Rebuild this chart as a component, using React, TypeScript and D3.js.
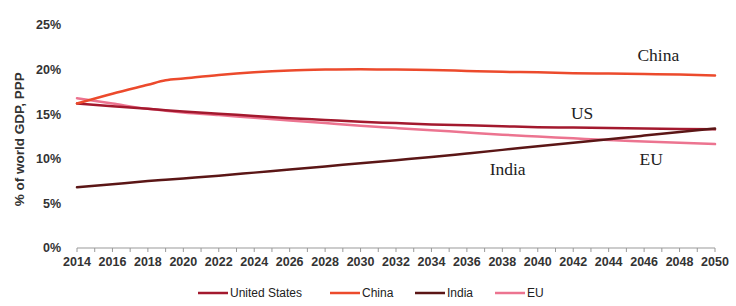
import React from "react";
import * as d3 from "d3";

const years = [2014, 2016, 2018, 2019, 2020, 2022, 2024, 2026, 2028, 2030, 2032, 2034, 2036, 2038, 2040, 2042, 2044, 2046, 2048, 2050];
const usValues = [16.2, 15.9, 15.6, 15.45, 15.3, 15.05, 14.8, 14.55, 14.35, 14.15, 14.0, 13.85, 13.75, 13.65, 13.55, 13.5, 13.45, 13.4, 13.35, 13.3];
const chinaValues = [16.2, 17.3, 18.3, 18.8, 19.0, 19.4, 19.7, 19.9, 20.0, 20.05, 20.0, 19.95, 19.85, 19.75, 19.7, 19.6, 19.55, 19.5, 19.45, 19.35];
const indiaValues = [6.8, 7.15, 7.5, 7.65, 7.8, 8.1, 8.45, 8.8, 9.15, 9.5, 9.85, 10.2, 10.6, 11.0, 11.4, 11.8, 12.2, 12.6, 13.0, 13.4];
const euValues = [16.8, 16.2, 15.6, 15.4, 15.2, 14.9, 14.6, 14.3, 14.0, 13.7, 13.45, 13.2, 12.95, 12.7, 12.5, 12.3, 12.1, 11.95, 11.8, 11.65];
const yTicks = [0, 5, 10, 15, 20, 25];
const xTickLabels = d3.range(2014, 2051, 2);
const seriesNames = ["United States", "China", "India", "EU"];
const seriesColors = ["#a3192e", "#ec4a2c", "#5b1616", "#ec7490"];
const annotations = [
  { text: "China", year: 2046.8, value: 21.6 },
  { text: "US", year: 2042.5, value: 15.2 },
  { text: "India", year: 2038.3, value: 8.9 },
  { text: "EU", year: 2046.4, value: 10.0 },
];

export default function App() {
  const width = 736;
  const height = 306;
  const x = d3.scaleLinear().domain([2014, 2050]).range([77, 715]);
  const y = d3.scaleLinear().domain([0, 25]).range([248, 25]);
  const allValues = [usValues, chinaValues, indiaValues, euValues];
  const line = d3
    .line<[number, number]>()
    .x((d) => x(d[0]))
    .y((d) => y(d[1]))
    .curve(d3.curveMonotoneX);
  const legendX = [198, 330, 415, 495];
  const drawOrder = [3, 0, 2, 1];

  return (
    <svg width={width} height={height} style={{ position: "absolute", left: 0, top: 0, background: "#fff" }}>
      {yTicks.map((t) => (
        <text key={t} x={61} y={y(t)} dy="0.35em" textAnchor="end" fontFamily="Liberation Sans, Arial, sans-serif" fontWeight="bold" fontSize={12.5} fill="#333">
          {t}%
        </text>
      ))}
      <text
        transform={`translate(24, ${y(12.2)}) rotate(-90)`}
        textAnchor="middle"
        fontFamily="Liberation Sans, Arial, sans-serif"
        fontWeight="bold"
        fontSize={13.5}
        fill="#333"
      >
        % of world GDP, PPP
      </text>
      <line x1={x(2014)} x2={x(2050)} y1={248} y2={248} stroke="#999" strokeWidth={1} />
      {d3.range(2014, 2051, 1).map((yr) => (
        <line key={yr} x1={x(yr)} x2={x(yr)} y1={248} y2={252} stroke="#999" strokeWidth={1} />
      ))}
      {xTickLabels.map((yr) => (
        <text key={yr} x={x(yr)} y={266} textAnchor="middle" fontFamily="Liberation Sans, Arial, sans-serif" fontWeight="bold" fontSize={12.5} fill="#333">
          {yr}
        </text>
      ))}
      {drawOrder.map((i) => (
        <path
          key={i}
          d={line(years.map((yr, j) => [yr, allValues[i][j]] as [number, number])) || ""}
          fill="none"
          stroke={seriesColors[i]}
          strokeWidth={2.5}
          strokeLinecap="round"
        />
      ))}
      {annotations.map((a) => (
        <text key={a.text} x={x(a.year)} y={y(a.value)} dy="0.35em" textAnchor="middle" fontFamily="Liberation Serif, serif" fontSize={17.5} fill="#222">
          {a.text}
        </text>
      ))}
      {seriesNames.map((n, i) => (
        <g key={n}>
          <line x1={legendX[i]} x2={legendX[i] + 30} y1={293} y2={293} stroke={seriesColors[i]} strokeWidth={2.5} />
          <text x={legendX[i] + 32} y={293} dy="0.35em" fontFamily="Liberation Sans, Arial, sans-serif" fontSize={12} fill="#222">
            {n}
          </text>
        </g>
      ))}
    </svg>
  );
}
